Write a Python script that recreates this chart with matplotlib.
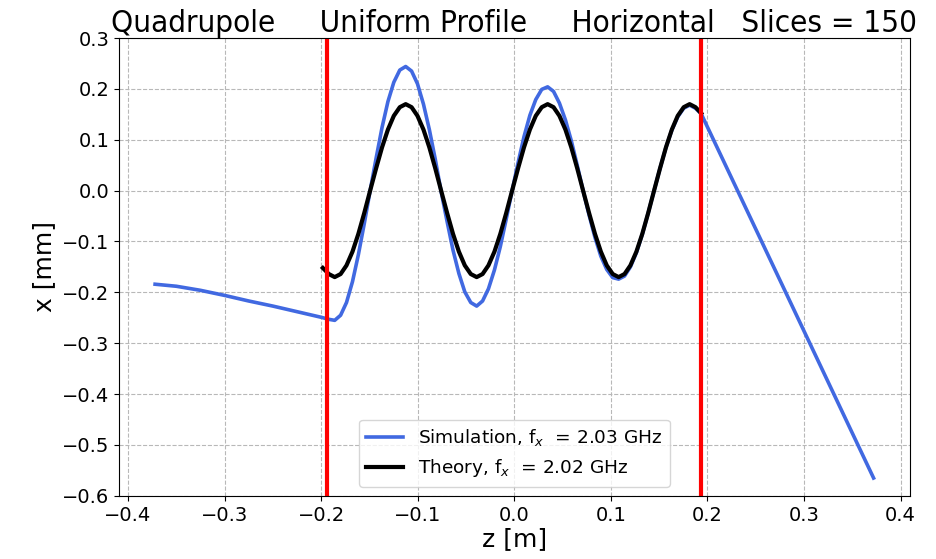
import matplotlib
matplotlib.use("Agg")
import matplotlib.pyplot as plt

# simulation: quadrupole entrance + exit drifts and the oscillation inside
z_sim = [-0.372, -0.35, -0.325, -0.30, -0.275, -0.25, -0.225, -0.20,
         -0.1921, -0.1860, -0.1799, -0.1738, -0.1676, -0.1615, -0.1554, -0.1493,
         -0.1431, -0.1370, -0.1309, -0.1248, -0.1186, -0.1125, -0.1064, -0.1003,
         -0.0941, -0.0880, -0.0819, -0.0758, -0.0696, -0.0635, -0.0574, -0.0513,
         -0.0451, -0.0390, -0.0329, -0.0268, -0.0206, -0.0145, -0.0084, -0.0023,
         0.0039, 0.0100, 0.0161, 0.0222, 0.0284, 0.0345, 0.0406, 0.0467,
         0.0529, 0.0590, 0.0651, 0.0712, 0.0774, 0.0835, 0.0896, 0.0957,
         0.1019, 0.1080, 0.1141, 0.1202, 0.1264, 0.1325, 0.1386, 0.1447,
         0.1509, 0.1570, 0.1631, 0.1692, 0.1754, 0.1815, 0.1876, 0.1935,
         0.372]
x_sim = [-0.184, -0.188, -0.196, -0.206, -0.217, -0.227, -0.238, -0.249,
         -0.253, -0.255, -0.245, -0.220, -0.179, -0.126, -0.065, 0.000,
         0.064, 0.124, 0.175, 0.213, 0.237, 0.244, 0.235, 0.210,
         0.170, 0.120, 0.062, -0.002, -0.061, -0.117, -0.163, -0.199,
         -0.220, -0.227, -0.217, -0.193, -0.156, -0.110, -0.056, 0.000,
         0.055, 0.106, 0.148, 0.179, 0.199, 0.204, 0.195, 0.172,
         0.139, 0.098, 0.050, 0.000, -0.048, -0.092, -0.129, -0.155,
         -0.171, -0.174, -0.168, -0.150, -0.122, -0.086, -0.044, 0.000,
         0.044, 0.085, 0.119, 0.145, 0.162, 0.168, 0.162, 0.151,
         -0.565]

# theory inside the quadrupole
z_th = [-0.1983, -0.1921, -0.1860, -0.1799, -0.1738, -0.1676, -0.1615, -0.1554,
        -0.1493, -0.1431, -0.1370, -0.1309, -0.1248, -0.1186, -0.1125, -0.1064,
        -0.1003, -0.0941, -0.0880, -0.0819, -0.0758, -0.0696, -0.0635, -0.0574,
        -0.0513, -0.0451, -0.0390, -0.0329, -0.0268, -0.0206, -0.0145, -0.0084,
        -0.0023, 0.0039, 0.0100, 0.0161, 0.0222, 0.0284, 0.0345, 0.0406,
        0.0467, 0.0529, 0.0590, 0.0651, 0.0712, 0.0774, 0.0835, 0.0896,
        0.0957, 0.1019, 0.1080, 0.1141, 0.1202, 0.1264, 0.1325, 0.1386,
        0.1447, 0.1509, 0.1570, 0.1631, 0.1692, 0.1754, 0.1815, 0.1876,
        0.1935]
x_th = [-0.152, -0.164, -0.170, -0.164, -0.147, -0.120, -0.085, -0.044,
        0.000, 0.044, 0.085, 0.120, 0.147, 0.164, 0.170, 0.164,
        0.147, 0.120, 0.085, 0.044, 0.000, -0.044, -0.085, -0.120,
        -0.147, -0.164, -0.170, -0.164, -0.147, -0.120, -0.085, -0.044,
        0.000, 0.044, 0.085, 0.120, 0.147, 0.164, 0.170, 0.164,
        0.147, 0.120, 0.085, 0.044, 0.000, -0.044, -0.085, -0.120,
        -0.147, -0.164, -0.170, -0.164, -0.147, -0.120, -0.085, -0.044,
        0.000, 0.044, 0.085, 0.120, 0.147, 0.164, 0.170, 0.164,
        0.152]

quad_edges = [-0.1945, 0.1935]

fig, ax = plt.subplots(figsize=(9.36, 5.59), dpi=100)
plt.subplots_adjust(left=0.127, right=0.972, top=0.932, bottom=0.113)

ax.plot(z_sim, x_sim, color='royalblue', lw=2.6, label=r'Simulation, f$_x$  = 2.03 GHz')
ax.plot(z_th, x_th, color='black', lw=3, label=r'Theory, f$_x$  = 2.02 GHz')
for ze in quad_edges:
    ax.axvline(ze, color='red', lw=3)

ax.set_xlim(-0.4095, 0.4095)
ax.set_ylim(-0.6, 0.3)
ax.grid(True, linestyle='--', color='#b8b8b8', lw=0.8)
ax.tick_params(labelsize=14)
ax.set_xlabel('z [m]', fontsize=18, labelpad=2)
ax.set_ylabel('x [mm]', fontsize=18)
ax.set_title('Quadrupole     Uniform Profile     Horizontal   Slices = 150',
             fontsize=22.5, fontstretch='condensed', pad=4)
ax.legend(loc='lower center', fontsize=13.3)

fig.savefig('out.png')
